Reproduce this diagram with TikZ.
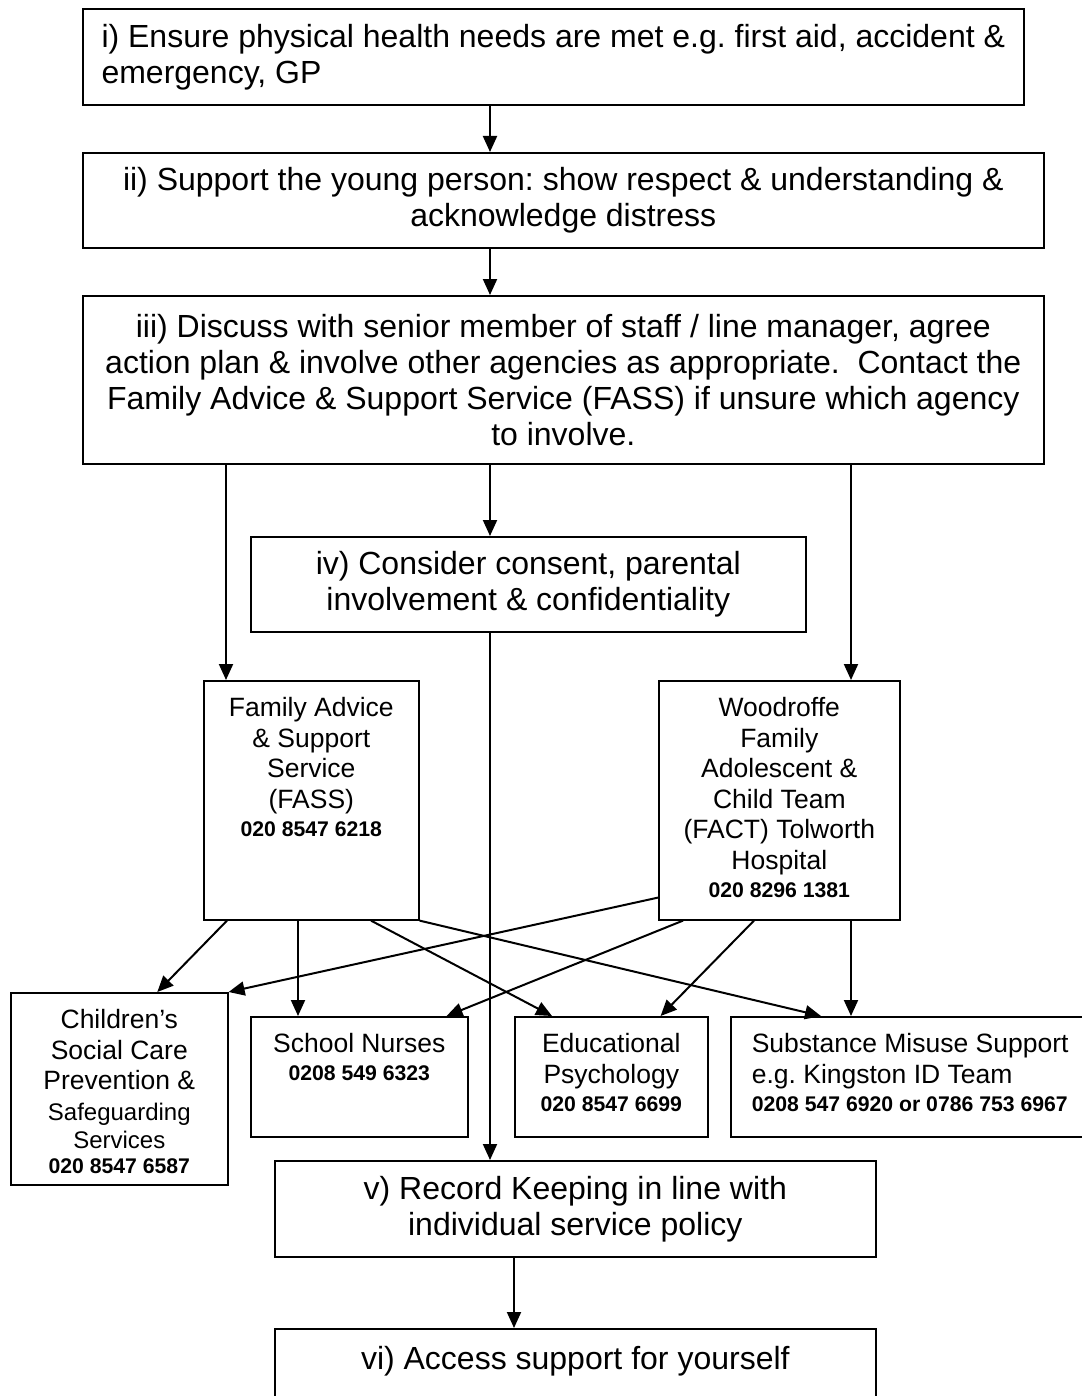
\documentclass[tikz,border=0pt]{standalone}
\usepackage{fontspec}
\setmainfont{Liberation Sans}
\usetikzlibrary{arrows.meta, positioning, calc}
\frenchspacing
\newcommand{\tel}[1]{{\fontsize{10.6}{12}\selectfont\bfseries #1}}

\begin{document}
\begin{tikzpicture}[x=0.5pt, y=-0.5pt,
  stage/.style={draw, line width=0.8pt, anchor=north west, inner xsep=4pt, inner ysep=0pt, align=flush center, font=\fontsize{16}{18}\selectfont},
  agency/.style={draw, line width=0.8pt, anchor=north west, inner xsep=2pt, inner ysep=0pt, align=flush center, text height=18pt, font=\fontsize{13.25}{15.25}\selectfont},
  link/.style={line width=1pt, -{Triangle[length=8pt, width=7pt]}}]
\useasboundingbox (0,0) rectangle (1081,1396);

% steps down the middle
\node[stage, align=flush left, inner xsep=7pt, minimum width=470.5pt, minimum height=48pt] (needs) at (82,8) {i) Ensure physical health needs are met e.g. first aid, accident \&\\emergency, GP};
\node[stage, minimum width=480.5pt, minimum height=47.5pt] (support) at (82,152) {ii) Support the young person: show respect \& understanding \&\\acknowledge distress};
\node[stage, minimum width=480.5pt, minimum height=84pt] (discuss) at (82,295) {iii) Discuss with senior member of staff / line manager, agree\\action plan \& involve other agencies as appropriate.\ \ Contact the\\Family Advice \& Support Service (FASS) if unsure which agency\\to involve.};
\node[stage, minimum width=277.5pt, minimum height=47.5pt] (consent) at (250,536) {iv) Consider consent, parental\\involvement \& confidentiality};

% services
\node[agency, text width=103.5pt, text depth=101.5pt] (fass) at (203,680) {Family Advice\\\& Support\\Service\\(FASS)\\[-1.25pt]\tel{020 8547 6218}};
\node[agency, text width=116.5pt, text depth=101.5pt] (fact) at (658,680) {Woodroffe\\Family\\Adolescent \&\\Child Team\\(FACT) Tolworth\\Hospital\\[-1.25pt]\tel{020 8296 1381}};
\node[agency, text width=104.5pt, text depth=78pt] (social) at (10,992) {Children’s\\Social Care\\Prevention \&\\{\fontsize{12}{14}\selectfont Safeguarding}\\[-1pt]{\fontsize{12}{14}\selectfont Services}\\[-3pt]\tel{020 8547 6587}};
\node[agency, text width=104.5pt, text depth=42pt] (nurses) at (250,1016) {School Nurses\\[-1.25pt]\tel{0208 549 6323}};
\node[agency, text width=92.5pt, text depth=42pt] (edpsych) at (514,1016) {Educational\\Psychology\\[-1.25pt]\tel{020 8547 6699}};
\node[agency, align=flush left, inner xsep=10.5pt, text width=165pt, text depth=42pt] (misuse) at (730,1016) {Substance Misuse Support\\e.g. Kingston ID Team\\[-1.25pt]\tel{0208 547 6920 or 0786 753 6967}};

\node[stage, minimum width=300.5pt, minimum height=48pt] (records) at (274,1160) {v) Record Keeping in line with\\individual service policy};
\node[stage, text width=292.5pt, text height=20.5pt, text depth=25.5pt] (selfcare) at (274,1328) {vi) Access support for yourself};

\coordinate (midline) at (490,0);
\coordinate (leftline) at (226,0);
\coordinate (rightline) at (851,0);
\coordinate (lowline) at (514,0);

\draw[link] (needs.south -| midline) -- (support.north -| midline);
\draw[link] (support.south -| midline) -- (discuss.north -| midline);
\draw[link] (discuss.south -| midline) -- (consent.north -| midline);
\draw[link] (discuss.south -| leftline) -- (fass.north -| leftline);
\draw[link] (discuss.south -| rightline) -- (fact.north -| rightline);
\draw[link] (consent.south -| midline) -- (records.north -| midline);

% from FASS
\draw[link] ($(fass.south west)+(24,0)$) -- ($(social.north)+(38,0)$);
\draw[link] ($(fass.south west)+(95,0)$) -- ($(nurses.north west)+(48,0)$);
\draw[link] ($(fass.south west)+(168,0)$) -- ($(edpsych.north west)+(38,0)$);
\draw[link] (fass.south east) -- ($(misuse.north west)+(91,0)$);
% from FACT
\draw[link] ($(fact.south west)+(0,-23)$) -- (social.north east);
\draw[link] ($(fact.south west)+(25,0)$) -- ($(nurses.north east)+(-22,0)$);
\draw[link] ($(fact.south west)+(96,0)$) -- ($(edpsych.north east)+(-48,0)$);
\draw[link] (fact.south -| rightline) -- (misuse.north -| rightline);

\draw[link] (records.south -| lowline) -- (selfcare.north -| lowline);
\end{tikzpicture}
\end{document}
